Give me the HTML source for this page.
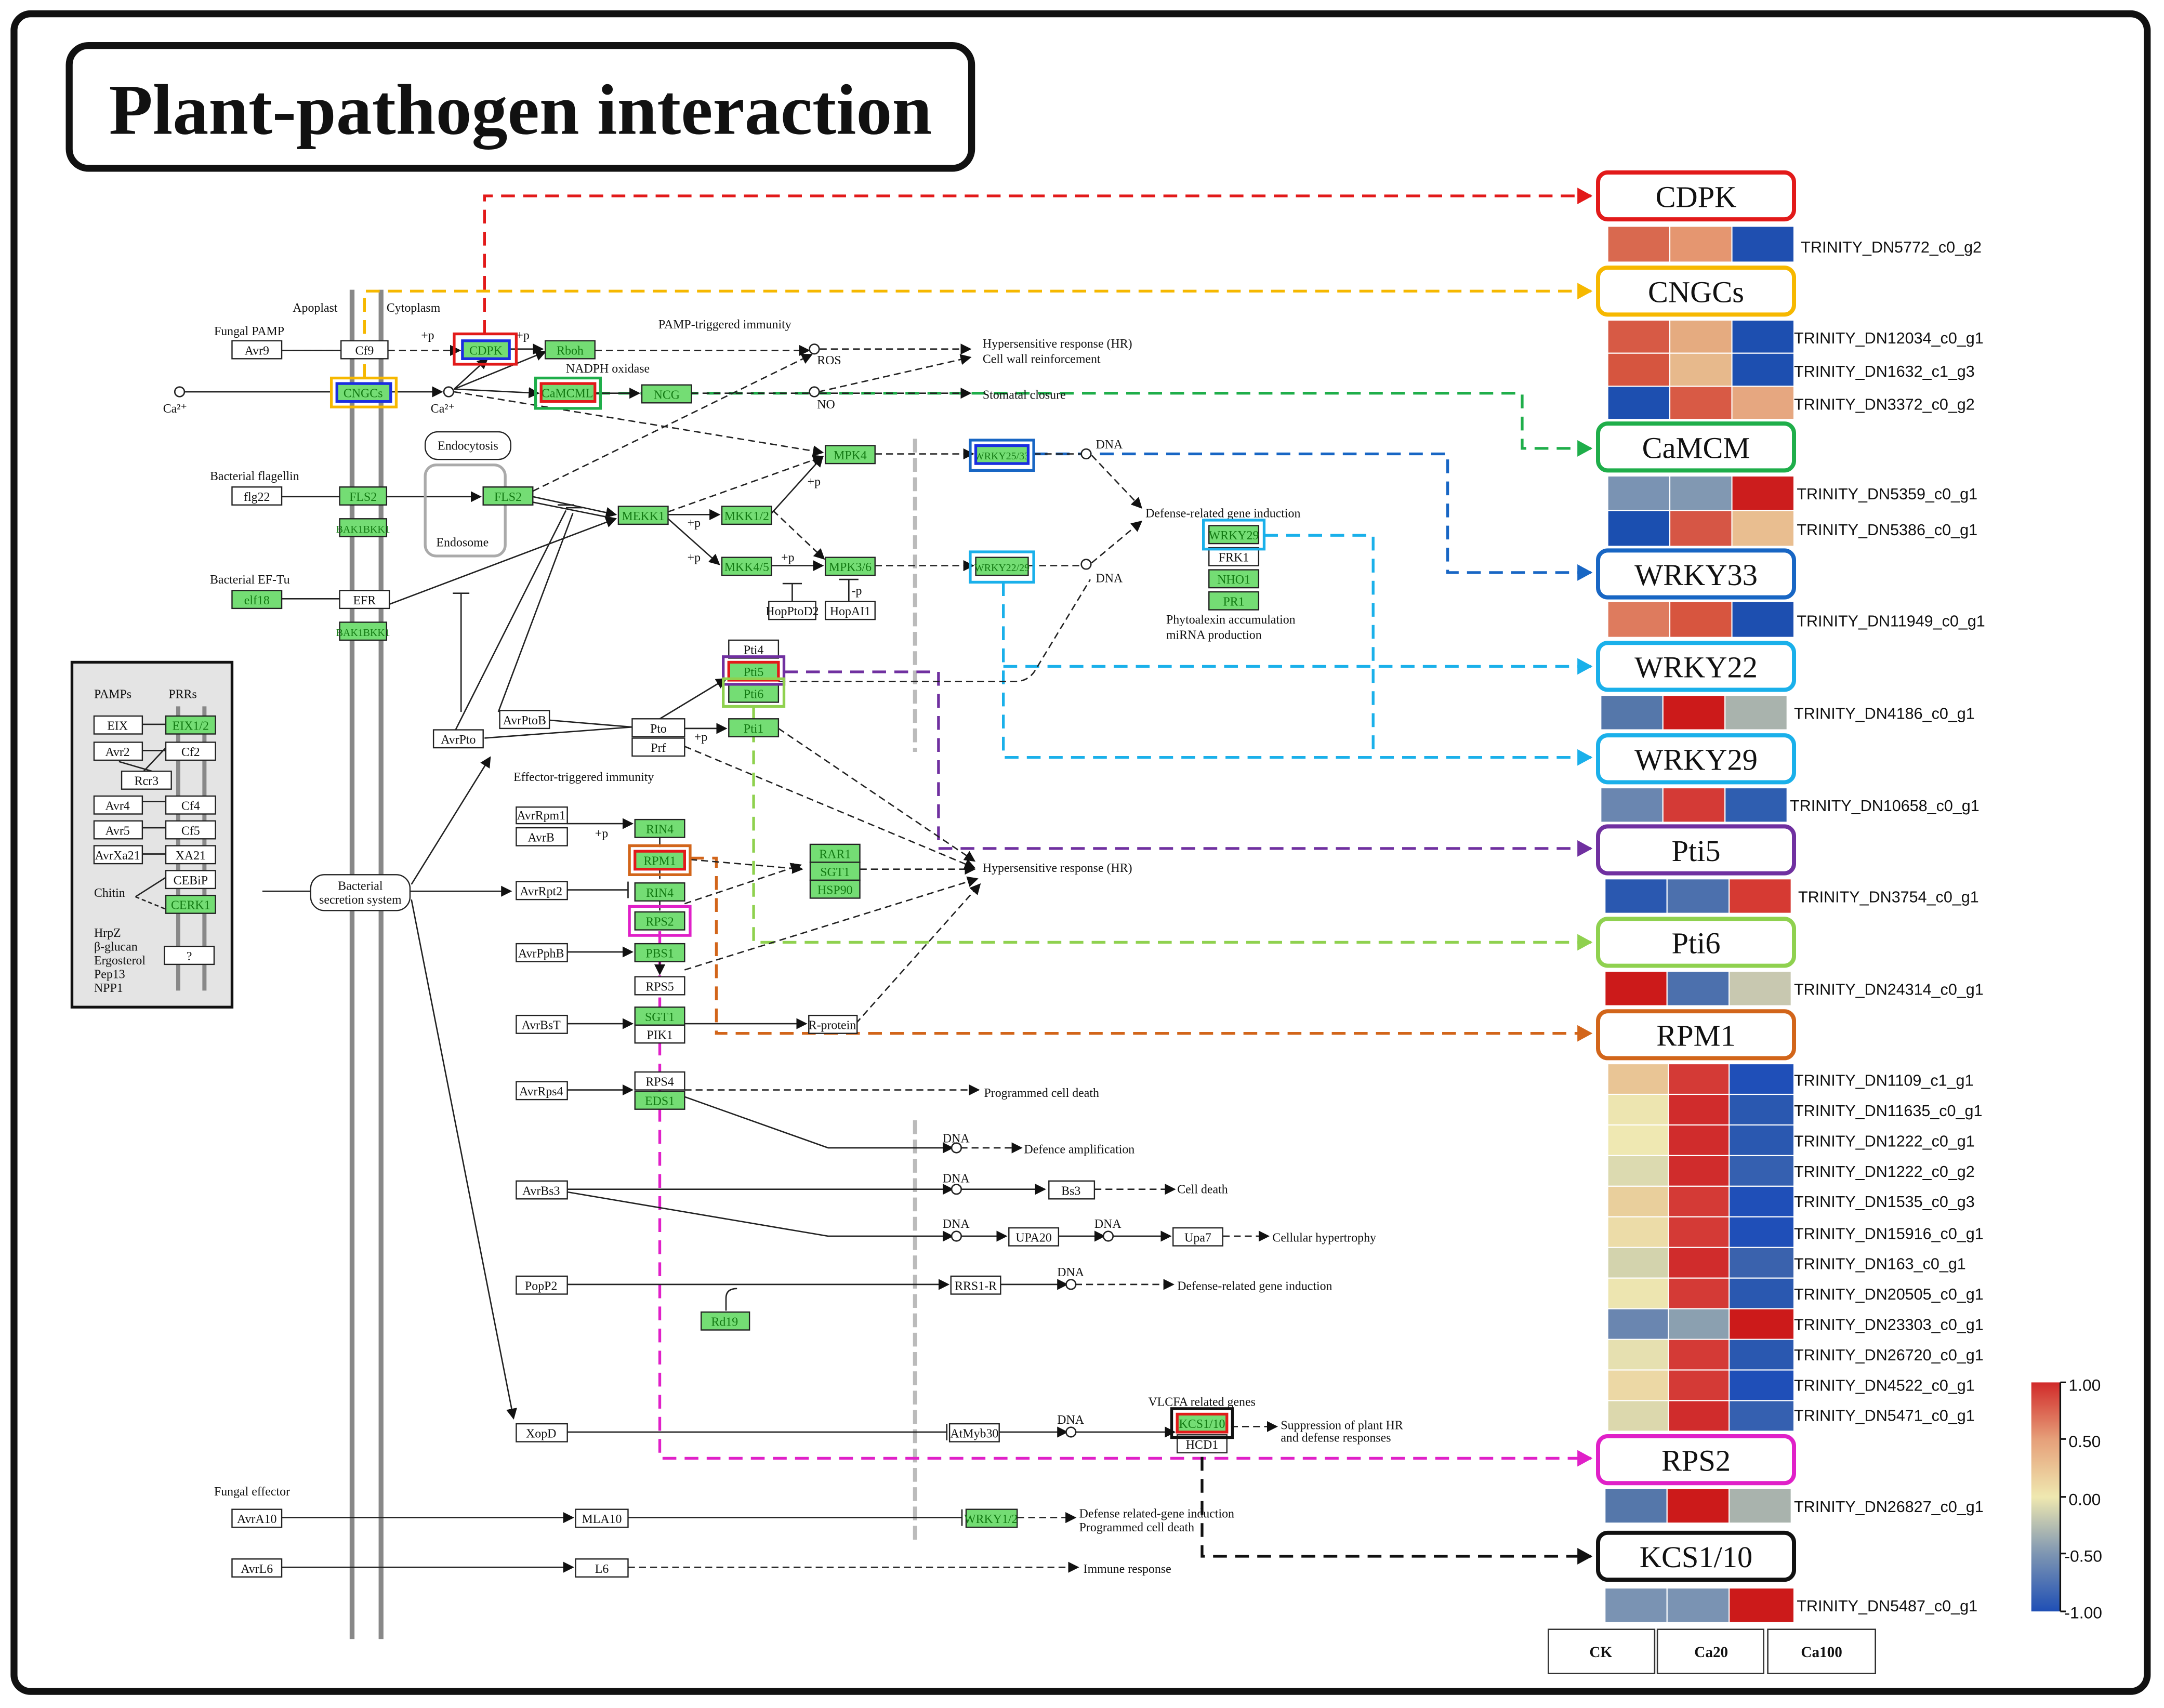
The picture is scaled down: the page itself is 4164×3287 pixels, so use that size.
<!DOCTYPE html>
<html><head><meta charset="utf-8"><style>
html,body{margin:0;padding:0;background:#fff}
svg{display:block}
text{font-family:"Liberation Serif",serif;font-size:9px;fill:#111}
.g{fill:#74dd74;stroke:#222;stroke-width:.9}
.w{fill:#fff;stroke:#222;stroke-width:.9}
.gt{fill:#137a13}
.ln{stroke:#222;stroke-width:1;fill:none}
.dl{stroke:#222;stroke-width:1;fill:none;stroke-dasharray:5 3}
.lab{font-family:"Liberation Serif",serif;font-size:22px;fill:#111}
.tr{font-family:"Liberation Sans",sans-serif;font-size:11.5px;fill:#111}
.c{stroke-width:2;fill:none;stroke-dasharray:10 6}
</style></head><body>
<svg width="4164" height="3287" viewBox="0 0 1568 1238" xmlns="http://www.w3.org/2000/svg">
<defs>
<marker id="a" markerWidth="8" markerHeight="8" refX="7" refY="4" orient="auto" markerUnits="userSpaceOnUse"><path d="M0,0L8,4L0,8z" fill="#111"/></marker>
<marker id="ar" markerWidth="12" markerHeight="12" refX="10" refY="6" orient="auto" markerUnits="userSpaceOnUse"><path d="M0,0L11,6L0,12z" fill="#e21a1a"/></marker>
<marker id="ao" markerWidth="12" markerHeight="12" refX="10" refY="6" orient="auto" markerUnits="userSpaceOnUse"><path d="M0,0L11,6L0,12z" fill="#f6b800"/></marker>
<marker id="ag" markerWidth="12" markerHeight="12" refX="10" refY="6" orient="auto" markerUnits="userSpaceOnUse"><path d="M0,0L11,6L0,12z" fill="#1fae4a"/></marker>
<marker id="ab" markerWidth="12" markerHeight="12" refX="10" refY="6" orient="auto" markerUnits="userSpaceOnUse"><path d="M0,0L11,6L0,12z" fill="#1866c4"/></marker>
<marker id="ac" markerWidth="12" markerHeight="12" refX="10" refY="6" orient="auto" markerUnits="userSpaceOnUse"><path d="M0,0L11,6L0,12z" fill="#1ab0ea"/></marker>
<marker id="ap" markerWidth="12" markerHeight="12" refX="10" refY="6" orient="auto" markerUnits="userSpaceOnUse"><path d="M0,0L11,6L0,12z" fill="#7030a0"/></marker>
<marker id="al" markerWidth="12" markerHeight="12" refX="10" refY="6" orient="auto" markerUnits="userSpaceOnUse"><path d="M0,0L11,6L0,12z" fill="#8fd14f"/></marker>
<marker id="abr" markerWidth="12" markerHeight="12" refX="10" refY="6" orient="auto" markerUnits="userSpaceOnUse"><path d="M0,0L11,6L0,12z" fill="#d2651a"/></marker>
<marker id="am" markerWidth="12" markerHeight="12" refX="10" refY="6" orient="auto" markerUnits="userSpaceOnUse"><path d="M0,0L11,6L0,12z" fill="#e020c8"/></marker>
<marker id="ak" markerWidth="12" markerHeight="12" refX="10" refY="6" orient="auto" markerUnits="userSpaceOnUse"><path d="M0,0L11,6L0,12z" fill="#111"/></marker>
<linearGradient id="cb" x1="0" y1="0" x2="0" y2="1"><stop offset="0" stop-color="#d12a2a"/><stop offset=".25" stop-color="#e6a07a"/><stop offset=".5" stop-color="#efe8b0"/><stop offset=".75" stop-color="#7d95b2"/><stop offset="1" stop-color="#1f4fb5"/></linearGradient>
</defs>
<rect width="1568" height="1238" fill="#fff"/>
<rect x="10" y="10" width="1546" height="1216" rx="12" fill="none" stroke="#111" stroke-width="5"/>
<rect x="50" y="33" width="654" height="89" rx="14" fill="#fff" stroke="#111" stroke-width="5"/>
<text x="377" y="97" text-anchor="middle" style="font-size:52px;font-weight:bold">Plant-pathogen interaction</text>

<!-- membranes -->
<g stroke="#888" stroke-width="3.5"><line x1="255" y1="210" x2="255" y2="1188"/><line x1="276" y1="210" x2="276" y2="1188"/></g>
<text x="212" y="226">Apoplast</text><text x="280" y="226">Cytoplasm</text>
<line x1="663" y1="318" x2="663" y2="545" stroke="#bbb" stroke-width="3" stroke-dasharray="10 4"/>
<line x1="663" y1="812" x2="663" y2="1118" stroke="#bbb" stroke-width="3" stroke-dasharray="10 4"/>

<!-- colored connectors -->
<path class="c" stroke="#e21a1a" d="M351,242V142H1153" marker-end="url(#ar)"/>
<path class="c" stroke="#f6b800" d="M264,274V211H1153" marker-end="url(#ao)"/>
<path class="c" stroke="#1fae4a" d="M432,285H1103V325H1153" marker-end="url(#ag)"/>
<path class="c" stroke="#1866c4" d="M749,329H1049V415H1153" marker-end="url(#ab)"/>
<path class="c" stroke="#1ab0ea" d="M727,422V549H1153" marker-end="url(#ac)"/>
<path class="c" stroke="#1ab0ea" d="M727,483H1153" marker-end="url(#ac)"/>
<path class="c" stroke="#1ab0ea" d="M916,388H995V549"/>
<path class="c" stroke="#7030a0" d="M568,487H680V615H1153" marker-end="url(#ap)"/>
<path class="c" stroke="#8fd14f" d="M546,512V683H1153" marker-end="url(#al)"/>
<path class="c" stroke="#d2651a" d="M500,622H519V749H1153" marker-end="url(#abr)"/>
<path class="c" stroke="#e020c8" d="M478,675V1057H1153" marker-end="url(#am)"/>
<path class="c" stroke="#111" d="M871,1040V1128H1153" marker-end="url(#ak)"/>

<!-- black connectors -->
<g class="ln">
<path d="M130,284H240" /><path d="M283,284H320" marker-end="url(#a)"/>
<path d="M329,282L390,285" marker-end="url(#a)"/><path d="M329,282L353,260" marker-end="url(#a)"/><path d="M329,282L395,255" marker-end="url(#a)"/>
<path d="M431,285H463" marker-end="url(#a)"/><path d="M369,253H393" marker-end="url(#a)"/>
<path d="M204,360H246"/><path d="M280,360H348" marker-end="url(#a)"/>
<path d="M386,360L446,373" marker-end="url(#a)"/><path d="M386,364L446,376"/>
<path d="M204,434H246"/><path d="M282,438L446,376" marker-end="url(#a)"/>
<path d="M484,373H521" marker-end="url(#a)"/><path d="M484,376L521,409" marker-end="url(#a)"/>
<path d="M559,410H596" marker-end="url(#a)"/><path d="M559,372L596,331" marker-end="url(#a)"/>
<path d="M574,423V436"/><path d="M567,423H581"/><path d="M615,420V436"/><path d="M608,420H622"/>
<path d="M204,254H247"/>
<path d="M330,529L410,370"/><path d="M404,366H416"/><path d="M361,516L415,372"/><path d="M410,368H422"/>
<path d="M334,516V430"/><path d="M328,430H340"/>
<path d="M351,535L458,527"/><path d="M398,522L458,527"/>
<path d="M496,528H526" marker-end="url(#a)"/><path d="M478,521L526,492" marker-end="url(#a)"/>
<path d="M298,641L355,549" marker-end="url(#a)"/>
<path d="M190,646H225"/><path d="M297,646H370" marker-end="url(#a)"/>
<path d="M298,652L372,1028" marker-end="url(#a)"/>
<path d="M411,597H458" marker-end="url(#a)"/><path d="M411,645H455"/><path d="M455,639V651"/>
<path d="M411,690H458" marker-end="url(#a)"/><path d="M411,742H458" marker-end="url(#a)"/>
<path d="M496,742H584" marker-end="url(#a)"/>
<path d="M411,790H458" marker-end="url(#a)"/>
<path d="M478,607V614"/><path d="M478,630V637"/><path d="M478,653V660"/><path d="M478,697V706" marker-end="url(#a)"/>
<path d="M496,795L600,832H690" marker-end="url(#a)"/>
<path d="M411,862H690" marker-end="url(#a)"/><path d="M696,862H757" marker-end="url(#a)"/>
<path d="M411,864L600,896H690" marker-end="url(#a)"/><path d="M696,896H729" marker-end="url(#a)"/><path d="M767,896H800" marker-end="url(#a)"/><path d="M806,896H848" marker-end="url(#a)"/>
<path d="M411,931H687" marker-end="url(#a)"/><path d="M725,931H773" marker-end="url(#a)"/>
<path d="M526,950V941Q526,934 534,934"/>
<path d="M411,1038H686"/><path d="M686,1032V1044"/><path d="M724,1038H773" marker-end="url(#a)"/><path d="M779,1038H851" marker-end="url(#a)"/>
<path d="M204,1100H415" marker-end="url(#a)"/><path d="M455,1100H697"/><path d="M697,1094V1106"/>
<path d="M204,1136H415" marker-end="url(#a)"/>
</g>
<g class="dl">
<path d="M204,254H245"/><path d="M281,254H333" marker-end="url(#a)"/>
<path d="M431,254H586" marker-end="url(#a)"/><path d="M594,253H703" marker-end="url(#a)"/>
<path d="M593,284L703,259" marker-end="url(#a)"/><path d="M501,285H586"/><path d="M594,285H703" marker-end="url(#a)"/>
<path d="M386,356L588,257" marker-end="url(#a)"/>
<path d="M329,284L596,328" marker-end="url(#a)"/>
<path d="M484,371L596,331" marker-end="url(#a)"/>
<path d="M560,370L597,405" marker-end="url(#a)"/>
<path d="M634,329H705" marker-end="url(#a)"/><path d="M634,410H705" marker-end="url(#a)"/>
<path d="M749,329H783"/><path d="M791,330L827,368" marker-end="url(#a)"/>
<path d="M745,410H784"/><path d="M791,408L827,378" marker-end="url(#a)"/>
<path d="M564,494H735Q745,494 750,486L790,420"/>
<path d="M500,623L581,630" marker-end="url(#a)"/><path d="M623,630H706" marker-end="url(#a)"/>
<path d="M496,655L580,627" marker-end="url(#a)"/><path d="M496,703L708,637" marker-end="url(#a)"/>
<path d="M620,742L710,641" marker-end="url(#a)"/>
<path d="M564,528L706,624" marker-end="url(#a)"/><path d="M496,541L706,629" marker-end="url(#a)"/>
<path d="M496,790H709" marker-end="url(#a)"/>
<path d="M696,832H740" marker-end="url(#a)"/><path d="M793,862H851" marker-end="url(#a)"/>
<path d="M886,896H919" marker-end="url(#a)"/><path d="M779,931H850" marker-end="url(#a)"/>
<path d="M892,1034H925" marker-end="url(#a)"/><path d="M737,1100H779" marker-end="url(#a)"/>
<path d="M455,1136H781" marker-end="url(#a)"/>
</g>
<g fill="#fff" stroke="#222" stroke-width="1"><circle cx="130" cy="284" r="3.5"/><circle cx="325" cy="284" r="3.5"/><circle cx="590" cy="253" r="3.5"/><circle cx="590" cy="284" r="3.5"/><circle cx="787" cy="329" r="3.5"/><circle cx="787" cy="409" r="3.5"/><circle cx="693" cy="832" r="3.5"/><circle cx="693" cy="862" r="3.5"/><circle cx="693" cy="896" r="3.5"/><circle cx="803" cy="896" r="3.5"/><circle cx="776" cy="931" r="3.5"/><circle cx="776" cy="1038" r="3.5"/></g>

<!-- labels -->
<text x="155" y="243">Fungal PAMP</text><text x="477" y="238">PAMP-triggered immunity</text>
<text x="410" y="270">NADPH oxidase</text><text x="118" y="299">Ca²⁺</text><text x="312" y="299">Ca²⁺</text>
<text x="592" y="264">ROS</text><text x="592" y="296">NO</text>
<text x="712" y="252">Hypersensitive response (HR)</text><text x="712" y="263">Cell wall reinforcement</text><text x="712" y="289">Stomatal closure</text>
<text x="152" y="348">Bacterial flagellin</text><text x="152" y="423">Bacterial EF-Tu</text>
<text x="585" y="352">+p</text><text x="498" y="382">+p</text><text x="498" y="407">+p</text><text x="566" y="407">+p</text><text x="617" y="431">-p</text><text x="305" y="246">+p</text><text x="374" y="246">+p</text><text x="503" y="537">+p</text><text x="431" y="607">+p</text>
<text x="794" y="325">DNA</text><text x="794" y="422">DNA</text>
<text x="830" y="375">Defense-related gene induction</text>
<text x="845" y="452">Phytoalexin accumulation</text><text x="845" y="463">miRNA production</text>
<text x="372" y="566">Effector-triggered immunity</text>
<text x="712" y="632">Hypersensitive response (HR)</text><text x="713" y="795">Programmed cell death</text>
<text x="683" y="828">DNA</text><text x="742" y="836">Defence amplification</text>
<text x="683" y="857">DNA</text><text x="853" y="865">Cell death</text>
<text x="683" y="890">DNA</text><text x="793" y="890">DNA</text><text x="922" y="900">Cellular hypertrophy</text>
<text x="766" y="925">DNA</text><text x="853" y="935">Defense-related gene induction</text>
<text x="766" y="1032">DNA</text><text x="832" y="1019">VLCFA related genes</text>
<text x="928" y="1036">Suppression of plant HR</text><text x="928" y="1045">and defense responses</text>
<text x="155" y="1084">Fungal effector</text>
<text x="782" y="1100">Defense related-gene induction</text><text x="782" y="1110">Programmed cell death</text>
<text x="785" y="1140">Immune response</text>

<!-- endocytosis -->
<rect x="308" y="313" width="62" height="20" rx="9" class="w"/><text x="339" y="326" text-anchor="middle">Endocytosis</text>
<rect x="308" y="337" width="58" height="66" rx="8" fill="none" stroke="#aaa" stroke-width="2"/><text x="335" y="396" text-anchor="middle">Endosome</text>
<rect x="225" y="634" width="72" height="26" rx="10" class="w"/><text x="261" y="645" text-anchor="middle">Bacterial</text><text x="261" y="655" text-anchor="middle">secretion system</text>

<!-- nodes: white -->
<g>
<rect class="w" x="168" y="247" width="36" height="13"/><text x="186" y="257" text-anchor="middle">Avr9</text>
<rect class="w" x="247" y="247" width="34" height="13"/><text x="264" y="257" text-anchor="middle">Cf9</text>
<rect class="w" x="168" y="353" width="36" height="13"/><text x="186" y="363" text-anchor="middle">flg22</text>
<rect class="w" x="246" y="428" width="36" height="13"/><text x="264" y="438" text-anchor="middle">EFR</text>
<rect class="w" x="557" y="436" width="34" height="13"/><text x="574" y="446" text-anchor="middle">HopPtoD2</text>
<rect class="w" x="598" y="436" width="36" height="13"/><text x="616" y="446" text-anchor="middle">HopAI1</text>
<rect class="w" x="876" y="397" width="36" height="13"/><text x="894" y="407" text-anchor="middle">FRK1</text>
<rect class="w" x="528" y="464" width="36" height="13"/><text x="546" y="474" text-anchor="middle">Pti4</text>
<rect class="w" x="458" y="521" width="38" height="13"/><text x="477" y="531" text-anchor="middle">Pto</text>
<rect class="w" x="458" y="535" width="38" height="13"/><text x="477" y="545" text-anchor="middle">Prf</text>
<rect class="w" x="362" y="515" width="36" height="13"/><text x="380" y="525" text-anchor="middle">AvrPtoB</text>
<rect class="w" x="314" y="529" width="36" height="13"/><text x="332" y="539" text-anchor="middle">AvrPto</text>
<rect class="w" x="374" y="585" width="37" height="12"/><text x="392" y="594" text-anchor="middle">AvrRpm1</text>
<rect class="w" x="374" y="600" width="37" height="13"/><text x="392" y="610" text-anchor="middle">AvrB</text>
<rect class="w" x="374" y="639" width="37" height="13"/><text x="392" y="649" text-anchor="middle">AvrRpt2</text>
<rect class="w" x="374" y="684" width="37" height="13"/><text x="392" y="694" text-anchor="middle">AvrPphB</text>
<rect class="w" x="460" y="708" width="36" height="13"/><text x="478" y="718" text-anchor="middle">RPS5</text>
<rect class="w" x="374" y="736" width="37" height="13"/><text x="392" y="746" text-anchor="middle">AvrBsT</text>
<rect class="w" x="460" y="743" width="36" height="13"/><text x="478" y="753" text-anchor="middle">PIK1</text>
<rect class="w" x="586" y="736" width="35" height="13"/><text x="603" y="746" text-anchor="middle">R-protein</text>
<rect class="w" x="374" y="784" width="37" height="13"/><text x="392" y="794" text-anchor="middle">AvrRps4</text>
<rect class="w" x="460" y="777" width="36" height="13"/><text x="478" y="787" text-anchor="middle">RPS4</text>
<rect class="w" x="374" y="856" width="37" height="13"/><text x="392" y="866" text-anchor="middle">AvrBs3</text>
<rect class="w" x="760" y="856" width="33" height="13"/><text x="776" y="866" text-anchor="middle">Bs3</text>
<rect class="w" x="731" y="890" width="36" height="13"/><text x="749" y="900" text-anchor="middle">UPA20</text>
<rect class="w" x="850" y="890" width="36" height="13"/><text x="868" y="900" text-anchor="middle">Upa7</text>
<rect class="w" x="374" y="925" width="37" height="13"/><text x="392" y="935" text-anchor="middle">PopP2</text>
<rect class="w" x="689" y="925" width="36" height="13"/><text x="707" y="935" text-anchor="middle">RRS1-R</text>
<rect class="w" x="374" y="1032" width="37" height="13"/><text x="392" y="1042" text-anchor="middle">XopD</text>
<rect class="w" x="688" y="1032" width="36" height="13"/><text x="706" y="1042" text-anchor="middle">AtMyb30</text>
<rect class="w" x="853" y="1040" width="36" height="13"/><text x="871" y="1050" text-anchor="middle">HCD1</text>
<rect class="w" x="168" y="1094" width="36" height="13"/><text x="186" y="1104" text-anchor="middle">AvrA10</text>
<rect class="w" x="417" y="1094" width="38" height="13"/><text x="436" y="1104" text-anchor="middle">MLA10</text>
<rect class="w" x="168" y="1130" width="36" height="13"/><text x="186" y="1140" text-anchor="middle">AvrL6</text>
<rect class="w" x="417" y="1130" width="38" height="13"/><text x="436" y="1140" text-anchor="middle">L6</text>
</g>
<!-- nodes: green -->
<g>
<rect class="g" x="335" y="247" width="34" height="13"/><text class="gt" x="352" y="257" text-anchor="middle">CDPK</text>
<rect class="g" x="395" y="247" width="36" height="13"/><text class="gt" x="413" y="257" text-anchor="middle">Rboh</text>
<rect class="g" x="244" y="278" width="39" height="13"/><text class="gt" x="263" y="288" text-anchor="middle">CNGCs</text>
<rect class="g" x="392" y="278" width="39" height="13"/><text class="gt" x="411" y="288" text-anchor="middle">CaMCML</text>
<rect class="g" x="465" y="279" width="36" height="13"/><text class="gt" x="483" y="289" text-anchor="middle">NCG</text>
<rect class="g" x="246" y="353" width="34" height="13"/><text class="gt" x="263" y="363" text-anchor="middle">FLS2</text>
<rect class="g" x="246" y="376" width="34" height="13"/><text class="gt" x="263" y="386" text-anchor="middle" style="font-size:7.5px">BAK1BKK1</text>
<rect class="g" x="350" y="353" width="36" height="13"/><text class="gt" x="368" y="363" text-anchor="middle">FLS2</text>
<rect class="g" x="448" y="367" width="36" height="13"/><text class="gt" x="466" y="377" text-anchor="middle">MEKK1</text>
<rect class="g" x="523" y="367" width="36" height="13"/><text class="gt" x="541" y="377" text-anchor="middle">MKK1/2</text>
<rect class="g" x="523" y="404" width="36" height="13"/><text class="gt" x="541" y="414" text-anchor="middle">MKK4/5</text>
<rect class="g" x="598" y="323" width="36" height="13"/><text class="gt" x="616" y="333" text-anchor="middle">MPK4</text>
<rect class="g" x="598" y="404" width="36" height="13"/><text class="gt" x="616" y="414" text-anchor="middle">MPK3/6</text>
<rect class="g" x="707" y="323" width="38" height="13"/><text class="gt" x="726" y="333" text-anchor="middle" style="font-size:7.5px">WRKY25/33</text>
<rect class="g" x="707" y="404" width="38" height="13"/><text class="gt" x="726" y="414" text-anchor="middle" style="font-size:7.5px">WRKY22/29</text>
<rect class="g" x="876" y="381" width="36" height="13"/><text class="gt" x="894" y="391" text-anchor="middle">WRKY29</text>
<rect class="g" x="876" y="413" width="36" height="13"/><text class="gt" x="894" y="423" text-anchor="middle">NHO1</text>
<rect class="g" x="876" y="429" width="36" height="13"/><text class="gt" x="894" y="439" text-anchor="middle">PR1</text>
<rect class="g" x="168" y="428" width="36" height="13"/><text class="gt" x="186" y="438" text-anchor="middle">elf18</text>
<rect class="g" x="246" y="451" width="34" height="13"/><text class="gt" x="263" y="461" text-anchor="middle" style="font-size:7.5px">BAK1BKK1</text>
<rect class="g" x="528" y="480" width="36" height="13"/><text class="gt" x="546" y="490" text-anchor="middle">Pti5</text>
<rect class="g" x="528" y="496" width="36" height="13"/><text class="gt" x="546" y="506" text-anchor="middle">Pti6</text>
<rect class="g" x="528" y="521" width="36" height="13"/><text class="gt" x="546" y="531" text-anchor="middle">Pti1</text>
<rect class="g" x="460" y="594" width="36" height="13"/><text class="gt" x="478" y="604" text-anchor="middle">RIN4</text>
<rect class="g" x="460" y="617" width="36" height="13"/><text class="gt" x="478" y="627" text-anchor="middle">RPM1</text>
<rect class="g" x="460" y="640" width="36" height="13"/><text class="gt" x="478" y="650" text-anchor="middle">RIN4</text>
<rect class="g" x="460" y="661" width="36" height="13"/><text class="gt" x="478" y="671" text-anchor="middle">RPS2</text>
<rect class="g" x="460" y="684" width="36" height="13"/><text class="gt" x="478" y="694" text-anchor="middle">PBS1</text>
<rect class="g" x="460" y="730" width="36" height="13"/><text class="gt" x="478" y="740" text-anchor="middle">SGT1</text>
<rect class="g" x="587" y="612" width="36" height="13"/><text class="gt" x="605" y="622" text-anchor="middle">RAR1</text>
<rect class="g" x="587" y="625" width="36" height="13"/><text class="gt" x="605" y="635" text-anchor="middle">SGT1</text>
<rect class="g" x="587" y="638" width="36" height="13"/><text class="gt" x="605" y="648" text-anchor="middle">HSP90</text>
<rect class="g" x="460" y="791" width="36" height="13"/><text class="gt" x="478" y="801" text-anchor="middle">EDS1</text>
<rect class="g" x="508" y="951" width="35" height="13"/><text class="gt" x="525" y="961" text-anchor="middle">Rd19</text>
<rect class="g" x="853" y="1025" width="36" height="13"/><text class="gt" x="871" y="1035" text-anchor="middle">KCS1/10</text>
<rect class="g" x="700" y="1094" width="37" height="13"/><text class="gt" x="718" y="1104" text-anchor="middle">WRKY1/2</text>
</g>
<!-- highlight frames -->
<g fill="none" stroke-width="2">
<rect x="329" y="242" width="45" height="22" stroke="#e21a1a"/><rect x="335" y="247" width="34" height="13" stroke="#1a2ee0"/>
<rect x="240" y="274" width="47" height="21" stroke="#f6b800"/><rect x="244" y="278" width="39" height="13" stroke="#1a2ee0"/>
<rect x="388" y="274" width="47" height="22" stroke="#1fae4a"/><rect x="392" y="278" width="39" height="13" stroke="#e21a1a"/>
<rect x="703" y="319" width="46" height="22" stroke="#1866c4"/><rect x="707" y="323" width="38" height="13" stroke="#1a2ee0"/>
<rect x="703" y="400" width="46" height="22" stroke="#1ab0ea"/>
<rect x="872" y="377" width="44" height="21" stroke="#1ab0ea"/>
<rect x="524" y="476" width="44" height="20" stroke="#7030a0"/><rect x="528" y="480" width="36" height="13" stroke="#e21a1a"/>
<rect x="524" y="492" width="44" height="20" stroke="#8fd14f"/>
<rect x="456" y="613" width="44" height="21" stroke="#d2651a"/><rect x="460" y="617" width="36" height="13" stroke="#e21a1a"/>
<rect x="456" y="657" width="44" height="21" stroke="#e020c8"/>
<rect x="849" y="1021" width="44" height="21" stroke="#111"/><rect x="853" y="1025" width="36" height="13" stroke="#e21a1a"/>
</g>

<!-- left PRR panel -->
<rect x="52" y="480" width="116" height="250" fill="#e4e4e4" stroke="#111" stroke-width="2"/>
<g stroke="#888" stroke-width="3"><line x1="129" y1="512" x2="129" y2="718"/><line x1="148" y1="512" x2="148" y2="718"/></g>
<text x="68" y="506">PAMPs</text><text x="122" y="506">PRRs</text>
<g class="ln"><path d="M103,525H120"/><path d="M103,544H120"/><path d="M103,581H120"/><path d="M103,600H120"/><path d="M103,619H120"/><path d="M86,552L110,559"/><path d="M104,559L120,542"/><path d="M98,650L120,636"/><path d="M98,650L120,659" stroke-dasharray="3 2"/></g>
<rect class="w" x="68" y="519" width="35" height="13"/><text x="85" y="529" text-anchor="middle">EIX</text>
<rect class="g" x="120" y="519" width="36" height="13"/><text class="gt" x="138" y="529" text-anchor="middle">EIX1/2</text>
<rect class="w" x="68" y="538" width="35" height="13"/><text x="85" y="548" text-anchor="middle">Avr2</text>
<rect class="w" x="120" y="538" width="36" height="13"/><text x="138" y="548" text-anchor="middle">Cf2</text>
<rect class="w" x="88" y="559" width="36" height="13"/><text x="106" y="569" text-anchor="middle">Rcr3</text>
<rect class="w" x="68" y="577" width="35" height="13"/><text x="85" y="587" text-anchor="middle">Avr4</text>
<rect class="w" x="120" y="577" width="36" height="13"/><text x="138" y="587" text-anchor="middle">Cf4</text>
<rect class="w" x="68" y="595" width="35" height="13"/><text x="85" y="605" text-anchor="middle">Avr5</text>
<rect class="w" x="120" y="595" width="36" height="13"/><text x="138" y="605" text-anchor="middle">Cf5</text>
<rect class="w" x="68" y="613" width="35" height="13"/><text x="85" y="623" text-anchor="middle">AvrXa21</text>
<rect class="w" x="120" y="613" width="36" height="13"/><text x="138" y="623" text-anchor="middle">XA21</text>
<rect class="w" x="120" y="631" width="36" height="13"/><text x="138" y="641" text-anchor="middle">CEBiP</text>
<rect class="g" x="120" y="649" width="36" height="13"/><text class="gt" x="138" y="659" text-anchor="middle">CERK1</text>
<text x="68" y="650">Chitin</text>
<text x="68" y="679">HrpZ</text><text x="68" y="689">β-glucan</text><text x="68" y="699">Ergosterol</text><text x="68" y="709">Pep13</text><text x="68" y="719">NPP1</text>
<rect class="w" x="119" y="686" width="36" height="13"/><text x="137" y="696" text-anchor="middle">?</text>

<!-- right panel labels -->
<g fill="#fff" stroke-width="3">
<rect x="1158" y="125" width="142" height="34" rx="7" stroke="#e21a1a"/>
<rect x="1158" y="194" width="142" height="34" rx="7" stroke="#f6b800"/>
<rect x="1158" y="307" width="142" height="34" rx="7" stroke="#1fae4a"/>
<rect x="1158" y="399" width="142" height="34" rx="7" stroke="#1866c4"/>
<rect x="1158" y="466" width="142" height="34" rx="7" stroke="#1ab0ea"/>
<rect x="1158" y="533" width="142" height="34" rx="7" stroke="#1ab0ea"/>
<rect x="1158" y="599" width="142" height="34" rx="7" stroke="#7030a0"/>
<rect x="1158" y="666" width="142" height="34" rx="7" stroke="#8fd14f"/>
<rect x="1158" y="733" width="142" height="34" rx="7" stroke="#d2651a"/>
<rect x="1158" y="1041" width="142" height="34" rx="7" stroke="#e020c8"/>
<rect x="1158" y="1111" width="142" height="34" rx="7" stroke="#111"/>
</g>
<g text-anchor="middle">
<text class="lab" x="1229" y="150">CDPK</text><text class="lab" x="1229" y="219">CNGCs</text><text class="lab" x="1229" y="332">CaMCM</text><text class="lab" x="1229" y="424">WRKY33</text><text class="lab" x="1229" y="491">WRKY22</text><text class="lab" x="1229" y="558">WRKY29</text><text class="lab" x="1229" y="624">Pti5</text><text class="lab" x="1229" y="691">Pti6</text><text class="lab" x="1229" y="758">RPM1</text><text class="lab" x="1229" y="1066">RPS2</text><text class="lab" x="1229" y="1136">KCS1/10</text>
</g>

<!-- heatmap -->
<g stroke="#fff" stroke-width=".8">
<rect x="1165" y="164" width="45" height="26" fill="#d9694f"/><rect x="1210" y="164" width="45" height="26" fill="#e59670"/><rect x="1255" y="164" width="45" height="26" fill="#1f4fb0"/>
<rect x="1165" y="232" width="45" height="24" fill="#d75a45"/><rect x="1210" y="232" width="45" height="24" fill="#e5ab80"/><rect x="1255" y="232" width="45" height="24" fill="#1d4fb0"/>
<rect x="1165" y="256" width="45" height="24" fill="#d6553f"/><rect x="1210" y="256" width="45" height="24" fill="#e7b98c"/><rect x="1255" y="256" width="45" height="24" fill="#1d4fb0"/>
<rect x="1165" y="280" width="45" height="24" fill="#1d4fb0"/><rect x="1210" y="280" width="45" height="24" fill="#d85a45"/><rect x="1255" y="280" width="45" height="24" fill="#e6a780"/>
<rect x="1165" y="345" width="45" height="25" fill="#7a93b3"/><rect x="1210" y="345" width="45" height="25" fill="#8198b2"/><rect x="1255" y="345" width="45" height="25" fill="#cc1d1d"/>
<rect x="1165" y="370" width="45" height="26" fill="#1b4fb0"/><rect x="1210" y="370" width="45" height="26" fill="#d65645"/><rect x="1255" y="370" width="45" height="26" fill="#e9be90"/>
<rect x="1165" y="436" width="45" height="26" fill="#de7b5e"/><rect x="1210" y="436" width="45" height="26" fill="#d7553f"/><rect x="1255" y="436" width="45" height="26" fill="#1d4fb0"/>
<rect x="1160" y="504" width="45" height="25" fill="#5577aa"/><rect x="1205" y="504" width="45" height="25" fill="#cc1a1a"/><rect x="1250" y="504" width="45" height="25" fill="#a9b3ad"/>
<rect x="1160" y="571" width="45" height="25" fill="#6a86b0"/><rect x="1205" y="571" width="45" height="25" fill="#d43a36"/><rect x="1250" y="571" width="45" height="25" fill="#2f5eb0"/>
<rect x="1163" y="637" width="45" height="25" fill="#2a58b0"/><rect x="1208" y="637" width="45" height="25" fill="#4c70ad"/><rect x="1253" y="637" width="45" height="25" fill="#d63a33"/>
<rect x="1163" y="704" width="45" height="25" fill="#cc1a1a"/><rect x="1208" y="704" width="45" height="25" fill="#4c70ad"/><rect x="1253" y="704" width="45" height="25" fill="#c8c8b0"/>
</g>
<g stroke="#fff" stroke-width=".8">
<rect x="1165" y="771" width="44" height="22.2" fill="#e9c595"/><rect x="1209" y="771" width="44" height="22.2" fill="#d43a36"/><rect x="1253" y="771" width="47" height="22.2" fill="#1f4fb8"/>
<rect x="1165" y="793.2" width="44" height="22.2" fill="#ede5b0"/><rect x="1209" y="793.2" width="44" height="22.2" fill="#d02c2c"/><rect x="1253" y="793.2" width="47" height="22.2" fill="#2a58b0"/>
<rect x="1165" y="815.4" width="44" height="22.2" fill="#efe8b2"/><rect x="1209" y="815.4" width="44" height="22.2" fill="#d02c2c"/><rect x="1253" y="815.4" width="47" height="22.2" fill="#2a58b0"/>
<rect x="1165" y="837.6" width="44" height="22.2" fill="#dcdab0"/><rect x="1209" y="837.6" width="44" height="22.2" fill="#d02c2c"/><rect x="1253" y="837.6" width="47" height="22.2" fill="#3560b0"/>
<rect x="1165" y="859.8" width="44" height="22.2" fill="#e9cf9c"/><rect x="1209" y="859.8" width="44" height="22.2" fill="#d43a36"/><rect x="1253" y="859.8" width="47" height="22.2" fill="#1f4fb8"/>
<rect x="1165" y="882" width="44" height="22.2" fill="#ecdca8"/><rect x="1209" y="882" width="44" height="22.2" fill="#d43a36"/><rect x="1253" y="882" width="47" height="22.2" fill="#1f4fb8"/>
<rect x="1165" y="904.2" width="44" height="22.2" fill="#d3d3ad"/><rect x="1209" y="904.2" width="44" height="22.2" fill="#d02c2c"/><rect x="1253" y="904.2" width="47" height="22.2" fill="#3a62ad"/>
<rect x="1165" y="926.4" width="44" height="22.2" fill="#ede5b0"/><rect x="1209" y="926.4" width="44" height="22.2" fill="#d43a36"/><rect x="1253" y="926.4" width="47" height="22.2" fill="#2a58b0"/>
<rect x="1165" y="948.6" width="44" height="22.2" fill="#6a86b0"/><rect x="1209" y="948.6" width="44" height="22.2" fill="#8ba0b0"/><rect x="1253" y="948.6" width="47" height="22.2" fill="#cc1a1a"/>
<rect x="1165" y="970.8" width="44" height="22.2" fill="#e6e0b0"/><rect x="1209" y="970.8" width="44" height="22.2" fill="#d43a36"/><rect x="1253" y="970.8" width="47" height="22.2" fill="#2a58b0"/>
<rect x="1165" y="993" width="44" height="22.2" fill="#ecd8a5"/><rect x="1209" y="993" width="44" height="22.2" fill="#d43a36"/><rect x="1253" y="993" width="47" height="22.2" fill="#1f4fb8"/>
<rect x="1165" y="1015.2" width="44" height="22.2" fill="#dcd8ad"/><rect x="1209" y="1015.2" width="44" height="22.2" fill="#d02c2c"/><rect x="1253" y="1015.2" width="47" height="22.2" fill="#3560b0"/>
<rect x="1163" y="1079" width="45" height="25" fill="#5577aa"/><rect x="1208" y="1079" width="45" height="25" fill="#cc1a1a"/><rect x="1253" y="1079" width="45" height="25" fill="#a9b3ad"/>
<rect x="1163" y="1151" width="45" height="25" fill="#7a93b3"/><rect x="1208" y="1151" width="45" height="25" fill="#7a93b3"/><rect x="1253" y="1151" width="47" height="25" fill="#cc1a1a"/>
</g>
<g class="tr">
<text class="tr" x="1305" y="183">TRINITY_DN5772_c0_g2</text>
<text class="tr" x="1300" y="249">TRINITY_DN12034_c0_g1</text><text class="tr" x="1300" y="273">TRINITY_DN1632_c1_g3</text><text class="tr" x="1300" y="297">TRINITY_DN3372_c0_g2</text>
<text class="tr" x="1302" y="362">TRINITY_DN5359_c0_g1</text><text class="tr" x="1302" y="388">TRINITY_DN5386_c0_g1</text>
<text class="tr" x="1302" y="454">TRINITY_DN11949_c0_g1</text>
<text class="tr" x="1300" y="521">TRINITY_DN4186_c0_g1</text>
<text class="tr" x="1297" y="588">TRINITY_DN10658_c0_g1</text>
<text class="tr" x="1303" y="654">TRINITY_DN3754_c0_g1</text>
<text class="tr" x="1300" y="721">TRINITY_DN24314_c0_g1</text>
<text class="tr" x="1300" y="787">TRINITY_DN1109_c1_g1</text><text class="tr" x="1300" y="809">TRINITY_DN11635_c0_g1</text><text class="tr" x="1300" y="831">TRINITY_DN1222_c0_g1</text><text class="tr" x="1300" y="853">TRINITY_DN1222_c0_g2</text><text class="tr" x="1300" y="875">TRINITY_DN1535_c0_g3</text><text class="tr" x="1300" y="898">TRINITY_DN15916_c0_g1</text><text class="tr" x="1300" y="920">TRINITY_DN163_c0_g1</text><text class="tr" x="1300" y="942">TRINITY_DN20505_c0_g1</text><text class="tr" x="1300" y="964">TRINITY_DN23303_c0_g1</text><text class="tr" x="1300" y="986">TRINITY_DN26720_c0_g1</text><text class="tr" x="1300" y="1008">TRINITY_DN4522_c0_g1</text><text class="tr" x="1300" y="1030">TRINITY_DN5471_c0_g1</text>
<text class="tr" x="1300" y="1096">TRINITY_DN26827_c0_g1</text>
<text class="tr" x="1302" y="1168">TRINITY_DN5487_c0_g1</text>
</g>
<!-- conditions -->
<g fill="#fff" stroke="#333" stroke-width="1"><rect x="1122" y="1181" width="77" height="32"/><rect x="1201" y="1181" width="77" height="32"/><rect x="1281" y="1181" width="78" height="32"/></g>
<g text-anchor="middle" style="font-weight:bold"><text x="1160" y="1201" style="font-size:11px;font-weight:bold">CK</text><text x="1240" y="1201" style="font-size:11px;font-weight:bold">Ca20</text><text x="1320" y="1201" style="font-size:11px;font-weight:bold">Ca100</text></g>
<!-- color bar -->
<rect x="1472" y="1002" width="21" height="166" fill="url(#cb)"/>
<path d="M1493,1002V1168M1493,1002h4M1493,1043h4M1493,1085h4M1493,1126h4M1493,1168h4" stroke="#111" stroke-width="1.2" fill="none"/>
<g style="font-family:'Liberation Sans',sans-serif;font-size:12px">
<text class="tr" x="1499" y="1008" style="font-size:12px">1.00</text><text class="tr" x="1499" y="1049" style="font-size:12px">0.50</text><text class="tr" x="1499" y="1091" style="font-size:12px">0.00</text><text class="tr" x="1496" y="1132" style="font-size:12px">-0.50</text><text class="tr" x="1496" y="1173" style="font-size:12px">-1.00</text>
</g>
</svg>
</body></html>
